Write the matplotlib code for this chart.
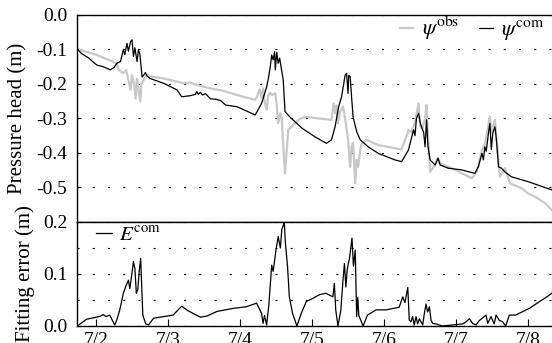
import matplotlib
matplotlib.use("Agg")
import matplotlib.pyplot as plt

plt.rcParams['font.family'] = ['Liberation Serif', 'DejaVu Serif']
plt.rcParams['mathtext.fontset'] = 'stix'

# time in days of July
obs_t = [1.74, 2.01, 2.29, 2.31, 2.38, 2.42, 2.45, 2.48, 2.50, 2.53, 2.55, 2.57, 2.59, 2.615, 2.63,
         2.66, 2.71, 2.76, 2.94, 3.22, 3.30, 3.40, 3.59, 3.75, 3.96, 4.21, 4.24, 4.27, 4.30, 4.32,
         4.34, 4.37, 4.39, 4.42, 4.44, 4.49, 4.51, 4.53, 4.56, 4.58, 4.60, 4.625, 4.645, 4.67, 4.74,
         4.81, 4.90, 5.09, 5.27, 5.30, 5.32, 5.34, 5.36, 5.39, 5.43, 5.46, 5.50, 5.53, 5.55, 5.57,
         5.60, 5.62, 5.64, 5.67, 5.69, 5.76, 5.92, 6.05, 6.15, 6.24, 6.31, 6.34, 6.38, 6.43, 6.48,
         6.50, 6.53, 6.57, 6.59, 6.61, 6.64, 6.69, 6.75, 6.78, 6.95, 7.08, 7.22, 7.29, 7.36, 7.40,
         7.44, 7.47, 7.49, 7.54, 7.56, 7.61, 7.68, 7.75, 7.91, 8.00, 8.10, 8.24, 8.33]
obs_v = [-0.099, -0.116, -0.140, -0.158, -0.169, -0.160, -0.190, -0.217, -0.175, -0.200, -0.242,
         -0.185, -0.215, -0.251, -0.200, -0.188, -0.174, -0.178, -0.184, -0.198, -0.196, -0.203,
         -0.213, -0.219, -0.232, -0.246, -0.235, -0.215, -0.240, -0.213, -0.250, -0.275, -0.235,
         -0.225, -0.232, -0.227, -0.260, -0.314, -0.285, -0.300, -0.380, -0.459, -0.400, -0.333,
         -0.319, -0.304, -0.295, -0.300, -0.304, -0.256, -0.285, -0.262, -0.314, -0.280, -0.265,
         -0.300, -0.360, -0.440, -0.380, -0.370, -0.488, -0.420, -0.440, -0.390, -0.372, -0.362,
         -0.377, -0.382, -0.386, -0.390, -0.353, -0.333, -0.340, -0.310, -0.256, -0.320, -0.330,
         -0.300, -0.261, -0.350, -0.454, -0.440, -0.415, -0.430, -0.445, -0.459, -0.473, -0.455,
         -0.391, -0.375, -0.330, -0.295, -0.340, -0.304, -0.350, -0.469, -0.444, -0.488, -0.502,
         -0.517, -0.527, -0.546, -0.565]

com_t = [1.74, 1.80, 1.90, 2.01, 2.10, 2.20, 2.25, 2.29, 2.34, 2.38, 2.40, 2.43, 2.45, 2.48, 2.50,
         2.52, 2.54, 2.57, 2.59, 2.61, 2.64, 2.66, 2.685, 2.71, 2.75, 2.94, 3.125, 3.19, 3.31, 3.38,
         3.40, 3.42, 3.45, 3.48, 3.52, 3.59, 3.66, 3.73, 3.80, 3.96, 4.16, 4.21, 4.30, 4.37, 4.39,
         4.42, 4.44, 4.46, 4.48, 4.49, 4.51, 4.53, 4.55, 4.60, 4.625, 4.69, 4.86, 5.04, 5.20, 5.27,
         5.32, 5.37, 5.41, 5.44, 5.46, 5.48, 5.50, 5.51, 5.53, 5.55, 5.57, 5.62, 5.67, 5.78, 5.92,
         6.15, 6.245, 6.34, 6.385, 6.41, 6.43, 6.45, 6.48, 6.50, 6.52, 6.55, 6.57, 6.59, 6.61, 6.64,
         6.71, 6.75, 6.78, 6.89, 7.08, 7.26, 7.31, 7.36, 7.38, 7.40, 7.42, 7.45, 7.47, 7.49, 7.51,
         7.54, 7.56, 7.59, 7.63, 7.68, 7.77, 8.00, 8.33]
com_v = [-0.099, -0.112, -0.125, -0.145, -0.150, -0.159, -0.152, -0.140, -0.135, -0.100, -0.115,
         -0.082, -0.105, -0.077, -0.072, -0.120, -0.095, -0.135, -0.100, -0.115, -0.180, -0.175,
         -0.167, -0.177, -0.184, -0.198, -0.217, -0.237, -0.234, -0.230, -0.222, -0.230, -0.224,
         -0.232, -0.228, -0.243, -0.244, -0.248, -0.261, -0.266, -0.285, -0.290, -0.256, -0.208,
         -0.188, -0.150, -0.116, -0.130, -0.107, -0.159, -0.108, -0.140, -0.125, -0.188, -0.280,
         -0.295, -0.328, -0.353, -0.372, -0.362, -0.324, -0.266, -0.237, -0.200, -0.174, -0.169,
         -0.227, -0.175, -0.179, -0.240, -0.295, -0.338, -0.362, -0.382, -0.401, -0.420, -0.425,
         -0.391, -0.353, -0.333, -0.350, -0.300, -0.285, -0.310, -0.324, -0.340, -0.382, -0.304,
         -0.380, -0.420, -0.435, -0.415, -0.435, -0.444, -0.449, -0.459, -0.440, -0.401, -0.420,
         -0.382, -0.395, -0.343, -0.314, -0.390, -0.343, -0.324, -0.360, -0.440, -0.444, -0.455,
         -0.469, -0.483, -0.507]

err_t = [1.74, 1.87, 2.01, 2.06, 2.10, 2.14, 2.19, 2.26, 2.29, 2.33, 2.38, 2.41, 2.45, 2.47, 2.49,
         2.52, 2.54, 2.56, 2.58, 2.60, 2.62, 2.65, 2.69, 2.73, 2.80, 2.94, 3.07, 3.19, 3.27, 3.35,
         3.45, 3.54, 3.68, 3.91, 4.09, 4.23, 4.30, 4.32, 4.34, 4.37, 4.40, 4.44, 4.46, 4.50, 4.53,
         4.56, 4.58, 4.615, 4.63, 4.66, 4.685, 4.73, 4.79, 4.85, 4.92, 5.01, 5.10, 5.19, 5.29, 5.31,
         5.33, 5.36, 5.40, 5.43, 5.45, 5.47, 5.49, 5.52, 5.555, 5.575, 5.60, 5.62, 5.635, 5.65, 5.71,
         5.77, 5.89, 6.03, 6.21, 6.26, 6.29, 6.33, 6.35, 6.374, 6.397, 6.42, 6.444, 6.467, 6.49,
         6.537, 6.56, 6.583, 6.606, 6.63, 6.653, 6.676, 6.72, 6.81, 6.954, 7.093, 7.139, 7.185,
         7.23, 7.278, 7.32, 7.417, 7.44, 7.486, 7.53, 7.556, 7.60, 7.648, 7.69, 7.74, 7.83, 7.93,
         8.02, 8.16, 8.25, 8.33]
err_v = [0.000, 0.013, 0.017, 0.019, 0.022, 0.018, 0.021, 0.002, 0.012, 0.031, 0.063, 0.075,
         0.088, 0.072, 0.092, 0.124, 0.110, 0.063, 0.070, 0.105, 0.130, 0.021, 0.004, 0.002, 0.015,
         0.018, 0.021, 0.038, 0.030, 0.024, 0.017, 0.019, 0.028, 0.034, 0.037, 0.044, 0.024, 0.005,
         0.020, 0.002, 0.040, 0.117, 0.105, 0.146, 0.172, 0.150, 0.185, 0.200, 0.160, 0.114, 0.056,
         0.024, 0.000, 0.024, 0.047, 0.053, 0.060, 0.063, 0.056, 0.082, 0.030, 0.000, 0.030, 0.088,
         0.120, 0.075, 0.110, 0.130, 0.169, 0.115, 0.146, 0.018, 0.055, 0.020, 0.000, 0.021, 0.031,
         0.031, 0.036, 0.056, 0.045, 0.074, 0.012, 0.008, 0.018, 0.002, 0.018, 0.004, 0.014,
         0.002, 0.024, 0.042, 0.027, 0.037, 0.011, 0.005, 0.004, 0.000, 0.002, 0.004, 0.008, 0.014,
         0.005, 0.002, 0.010, 0.021, 0.005, 0.018, 0.004, 0.021, 0.011, 0.008, 0.000, 0.021, 0.021,
         0.028, 0.034, 0.047, 0.055, 0.063]

days = [2, 3, 4, 5, 6, 7, 8]
day_labels = ["7/2", "7/3", "7/4", "7/5", "7/6", "7/7", "7/8"]

fig = plt.figure(figsize=(5.52, 3.43), dpi=100)
ax1 = fig.add_axes([0.1395, 0.3528, 0.866, 0.6035])
ax2 = fig.add_axes([0.1395, 0.0496, 0.866, 0.3032], sharex=ax1)

grid_kw = dict(color="black", linestyle=(0, (1.9, 11.8)), linewidth=0.8)

# panel superior
ax1.plot(obs_t, obs_v, color="#c8c8c8", lw=1.6, label=r"$\psi^{\rm obs}$")
ax1.plot(com_t, com_v, color="black", lw=0.9, label=r"$\psi^{\rm com}$")
ax1.set_ylim(-0.6, 0.0)
ax1.set_yticks([0.0, -0.1, -0.2, -0.3, -0.4, -0.5])
ax1.set_yticklabels(["0.0", "-0.1", "-0.2", "-0.3", "-0.4", "-0.5"])
ax1.grid(axis="y", **grid_kw)
ax1.set_ylabel("Pressure head (m)", fontsize=15, labelpad=6)
ax1.tick_params(axis="x", bottom=False, labelbottom=False)
ax1.tick_params(axis="y", direction="in", length=3, labelsize=14, pad=7)
ax1.legend(loc="upper right", bbox_to_anchor=(1.02, 1.10), ncol=2, frameon=False,
           fontsize=16, handlelength=0.6, handletextpad=0.4, columnspacing=0.9)

# panel inferior
ax2.plot(err_t, err_v, color="black", lw=0.9, label=r"$E^{\rm com}$")
ax2.set_ylim(0.0, 0.2)
ax2.set_yticks([0.0, 0.1, 0.2])
ax2.set_yticklabels(["0.0", "0.1", "0.2"])
ax2.set_yticks([0.05, 0.15], minor=True)
ax2.grid(axis="y", which="both", **grid_kw)
ax2.tick_params(axis="y", which="minor", length=0)
ax2.set_ylabel("Fitting error (m)", fontsize=15, labelpad=6)
ax2.set_xlim(1.736, 8.375)
ax2.set_xticks(days)
ax2.set_xticklabels(day_labels)
ax2.tick_params(axis="x", direction="in", length=5, labelsize=14, pad=4)
ax2.tick_params(axis="y", direction="in", length=3, labelsize=14, pad=7)
ax2.legend(loc="upper left", bbox_to_anchor=(0.0, 1.14), frameon=False,
           fontsize=15, handlelength=0.8, handletextpad=0.3)

for ax in (ax1, ax2):
    for s in ax.spines.values():
        s.set_linewidth(1.0)

fig.align_ylabels([ax1, ax2])
plt.savefig("out.png", dpi=100)
